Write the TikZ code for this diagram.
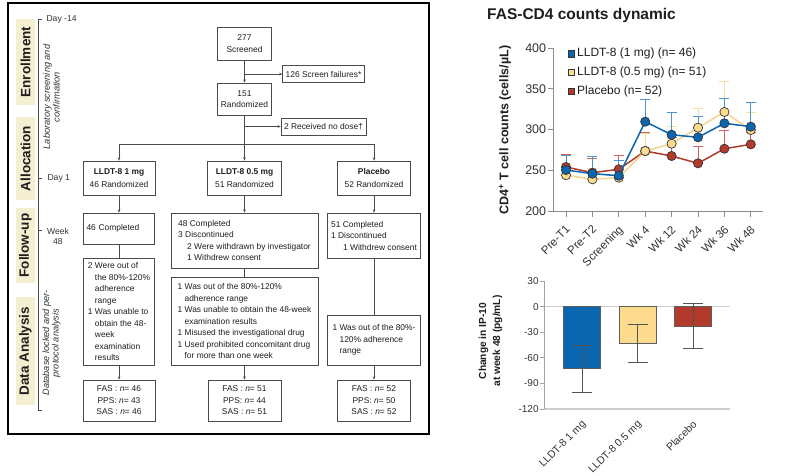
\documentclass[tikz,border=0pt]{standalone}
\usepackage{fontspec}
\setmainfont{Liberation Sans}
\usetikzlibrary{arrows.meta}
\definecolor{band}{HTML}{F3EFD0}
\definecolor{boxc}{HTML}{4A4A4A}
\definecolor{txt}{HTML}{1E1E1E}
\definecolor{cblue}{HTML}{0A66AE}
\definecolor{cyel}{HTML}{FCDB8E}
\definecolor{cyline}{HTML}{F6D58F}
\definecolor{cred}{HTML}{B23A2B}
\definecolor{eblue}{HTML}{4D93D0}
\definecolor{eyel}{HTML}{F8DDA3}
\definecolor{ered}{HTML}{C9675C}
\definecolor{mk}{HTML}{353535}
\definecolor{axc}{HTML}{8C8C8C}
\definecolor{zl}{HTML}{CDCDCD}
\definecolor{tk}{HTML}{333333}
\newcommand{\fflow}{\fontsize{8.4}{11.5}\selectfont}
\begin{document}
\begin{tikzpicture}[x=1pt,y=-1pt,
  fbox/.style={draw=boxc, line width=0.7pt, font=\fflow, text=txt, inner xsep=3pt, inner ysep=1pt, align=center},
  lbox/.style={fbox, align=left},
  conn/.style={draw=boxc, line width=0.65pt},
  arr/.style={conn, -{Stealth[length=3.2pt,width=2.6pt]}},
  phase/.style={fill=band, rotate=90, inner sep=0pt, minimum height=19pt, font=\bfseries\fontsize{13.5}{14}\selectfont, text=txt},
  tl/.style={font=\fontsize{8.6}{10}\selectfont, text=tk},
  note/.style={rotate=90, font=\itshape\fontsize{9.2}{9.6}\selectfont, text=tk, align=center},
  axl/.style={draw=axc, line width=0.8pt},
  ticklab/.style={font=\fontsize{12.5}{13}\selectfont, text=tk},
  xlab/.style={font=\fontsize{11.5}{12}\selectfont, text=tk, rotate=45, anchor=north east, inner sep=1pt},
  legt/.style={font=\fontsize{12}{12}\selectfont, text=txt, anchor=west, inner sep=0pt},
  legsq/.style={draw=mk, line width=0.5pt, minimum size=6.5pt, inner sep=0pt},
  dotmk/.style={draw=mk, line width=0.7pt},
  ebar/.style={line width=0.9pt},
  bticklab/.style={font=\fontsize{10}{11}\selectfont, text=tk},
  bxlab/.style={font=\fontsize{10.5}{11}\selectfont, text=tk, rotate=45, anchor=north east, inner sep=1pt},
  barbox/.style={draw=mk!80, line width=0.6pt},
  barerr/.style={draw=mk!85, line width=0.8pt},
]
\useasboundingbox (0,0) rectangle (794,475);
\fill[white] (0,0) rectangle (794,475);

% ---------------- left panel frame ----------------
\draw[line width=1.1pt, black] (8,3) rectangle (429,434);

% phase bands
\node[phase, minimum width=86pt] (ph1) at (25.5,62) {Enrollment};
\node[phase, minimum width=83pt] (ph2) at (25.5,158.5) {Allocation};
\node[phase, minimum width=75pt] (ph3) at (25.5,245.5) {Follow-up};
\node[phase, minimum width=108pt] (ph4) at (25.5,351) {Data Analysis};

% timeline
\draw[boxc, line width=0.6pt] (42,19) -- (38,19) -- (38,410) -- (42,410);
\draw[boxc, line width=0.6pt] (38,178) -- (42,178);
\draw[boxc, line width=0.6pt] (38,230) -- (42,230);
\node[tl, anchor=west] (d14) at (43,19) {Day -14};
\node[tl, anchor=west] (d1) at (44,178) {Day 1};
\node[tl, align=center] (w48) at (58,236) {Week\\48};
\node[note] (n1) at (51.5,97) {Laboratory screening and\\confirmation};
\node[note] (n2) at (51.5,343) {Database locked and per-\\protocol analysis};

% flow boxes
\node[fbox, minimum width=54pt, minimum height=33pt] (scr) at (244.5,43.5) {277\\Screened};
\node[fbox, minimum width=75pt, minimum height=17pt] (sf) at (323.5,74) {126 Screen failures*};
\node[fbox, minimum width=54pt, minimum height=32pt] (rand) at (244.5,99) {151\\Randomized};
\node[fbox, minimum width=75pt, minimum height=17pt] (nd) at (323.5,126.5) {2 Received no dose†};

\node[fbox, minimum width=72pt, minimum height=34pt] (g1) at (119,178) {\textbf{LLDT-8 1 mg}\\[1pt]46 Randomized};
\node[fbox, minimum width=74pt, minimum height=34pt] (g05) at (244.5,178) {\textbf{LLDT-8 0.5 mg}\\[1pt]51 Randomized};
\node[fbox, minimum width=73pt, minimum height=34pt] (gp) at (374,178) {\textbf{Placebo}\\[1pt]52 Randomized};

\node[lbox, text width=65pt, minimum height=31pt] (c1) at (119,228.5) {46 Completed};
\node[lbox, minimum width=147pt, minimum height=55pt] (c05) at (244.5,240.5) {48 Completed\\3 Discontinued\\\hspace*{9pt}2 Were withdrawn by investigator\\\hspace*{9pt}1 Withdrew consent};
\node[lbox, minimum width=93pt, minimum height=45pt] (cp) at (374,235.5) {51 Completed\\1 Discontinued\\\hspace*{12pt}1 Withdrew consent};

\node[lbox, minimum width=71pt, minimum height=107pt] (da1) at (119,311.5) {2 Were out of\\\hphantom{2 }the 80\%-120\%\\\hphantom{2 }adherence\\\hphantom{2 }range\\1 Was unable to\\\hphantom{1 }obtain the 48-\\\hphantom{1 }week\\\hphantom{1 }examination\\\hphantom{1 }results};
\node[lbox, minimum width=147pt, minimum height=88pt] (da05) at (244.5,321) {1 Was out of the 80\%-120\%\\\hphantom{1 }adherence range\\1 Was unable to obtain the 48-week\\\hphantom{1 }examination results\\1 Misused the investigational drug\\1 Used prohibited concomitant drug\\\hphantom{1 }for more than one week};
\node[lbox, minimum width=93pt, minimum height=50pt] (dap) at (374,340) {1 Was out of the 80\%-\\\hphantom{1 }120\% adherence\\\hphantom{1 }range};

\node[fbox, minimum width=72pt, minimum height=41pt] (f1) at (119,400.5) {FAS : \textit{n}= 46\\PPS: \textit{n}= 43\\SAS : \textit{n}= 46};
\node[fbox, minimum width=73pt, minimum height=41pt] (f05) at (244.5,400.5) {FAS : \textit{n}= 51\\PPS: \textit{n}= 44\\SAS : \textit{n}= 51};
\node[fbox, minimum width=73pt, minimum height=41pt] (fp) at (374,400.5) {FAS : \textit{n}= 52\\PPS: \textit{n}= 50\\SAS : \textit{n}= 52};

% connectors
\draw[arr] (scr) -- (rand);
\draw[arr] (scr.south |- sf.west) -- (sf.west);
\draw[arr] (rand) -- (g05);
\draw[arr] (rand.south |- nd.west) -- (nd.west);
\coordinate (split) at (244.5,144);
\draw[arr] (split) -| (g1.north);
\draw[arr] (split) -| (gp.north);
\draw[arr] (g1) -- (c1);
\draw[conn] (c1) -- (da1);
\draw[arr] (da1) -- (f1);
\draw[arr] (g05) -- (c05);
\draw[conn] (c05) -- (da05);
\draw[arr] (da05) -- (f05);
\draw[arr] (gp) -- (cp);
\draw[conn] (cp) -- (dap);
\draw[arr] (dap) -- (fp);

% ---------------- line chart ----------------
\node[font=\bfseries\fontsize{15.5}{16}\selectfont, text=txt] (title) at (581.5,15) {FAS-CD4 counts dynamic};
\node[rotate=90, font=\bfseries\fontsize{12.5}{13}\selectfont, text=txt] (ylab) at (505,130) {CD4\textsuperscript{+} T cell counts (cells/µL)};

\begin{scope}[shift={(539.6pt,-374pt)}, x=26.4pt, y=0.815pt]
  \draw[axl] (0.508,400) -- (0.508,200) -- (8.46,200);
  \foreach \v in {200,250,300,350,400} {
    \draw[axl] (0.508,\v) -- ++(-5pt,0) node[ticklab, anchor=east, inner sep=1.5pt] {\v};
  }
  \foreach \l [count=\i] in {Pre-T1,Pre-T2,Screening,Wk 4,Wk 12,Wk 24,Wk 36,Wk 48} {
    \draw[axl] (\i,200) -- ++(0,-6pt);
    \node[xlab] at ([xshift=-1pt,yshift=-12pt]\i,200) {\l};
  }
  % error bars
  \foreach \v/\t [count=\i] in {254/269,247/264,251.2/267.8,273.6/296,267.5/290,258.5/279,276.4/299,281.8/296} {
    \draw[ebar, ered] (\i,\v) -- (\i,\t) ([xshift=-5pt]\i,\t) -- ([xshift=5pt]\i,\t);
  }
  \foreach \v/\t [count=\i] in {244/258,238.9/252,240.9/254,273.6/295,282.6/304,302.2/326,321.5/359,299.4/320.6} {
    \draw[ebar, eyel] (\i,\v) -- (\i,\t) ([xshift=-5pt]\i,\t) -- ([xshift=5pt]\i,\t);
  }
  \foreach \v/\t [count=\i] in {250.3/268.7,245.8/266.6,243.3/262.6,309.6/337,293.6/320.6,290.4/316.2,307.6/338.7,303.5/332.9} {
    \draw[ebar, eblue] (\i,\v) -- (\i,\t) ([xshift=-5pt]\i,\t) -- ([xshift=5pt]\i,\t);
  }
  % red series
  \draw[cred, line width=1.5pt, line join=round] plot coordinates {(1,254) (2,247) (3,251.2) (4,273.6) (5,267.5) (6,258.5) (7,276.4) (8,281.8)};
  \foreach \v [count=\i] in {254,247,251.2,273.6,267.5,258.5,276.4,281.8} {
    \filldraw[dotmk, fill=cred] (\i,\v) circle (4.6pt);
  }
  % yellow series
  \draw[cyline, line width=1.5pt, line join=round] plot coordinates {(1,244) (2,238.9) (3,240.9) (4,273.6) (5,282.6) (6,302.2) (7,321.5) (8,299.4)};
  \foreach \v [count=\i] in {244,238.9,240.9,273.6,282.6,302.2,321.5,299.4} {
    \filldraw[dotmk, fill=cyel] (\i,\v) circle (4.6pt);
  }
  % blue series
  \draw[cblue, line width=1.5pt, line join=round] plot coordinates {(1,250.3) (2,245.8) (3,243.3) (4,309.6) (5,293.6) (6,290.4) (7,307.6) (8,303.5)};
  \foreach \v [count=\i] in {250.3,245.8,243.3,309.6,293.6,290.4,307.6,303.5} {
    \filldraw[dotmk, fill=cblue] (\i,\v) circle (4.6pt);
  }
\end{scope}

% legend
\node[legsq, fill=cblue] (lq1) at (571,53.5) {};
\node[legsq, fill=cyel] (lq2) at (571,72) {};
\node[legsq, fill=cred] (lq3) at (571,91) {};
\node[legt] (lt1) at (577,53.5) {LLDT-8 (1 mg) (n= 46)};
\node[legt] (lt2) at (577,72) {LLDT-8 (0.5 mg) (n= 51)};
\node[legt] (lt3) at (577,91) {Placebo (n= 52)};

% ---------------- bar chart ----------------
\node[rotate=90, align=center, font=\bfseries\fontsize{10.2}{14}\selectfont, text=txt] (bylab) at (490.5,341) {Change in IP-10\\at week 48 (pg/mL)};
\begin{scope}[shift={(526.5pt,-306.6pt)}, x=55.5pt, y=0.853pt]
  \draw[draw=zl, line width=1.4pt] (0.315,0) -- (3.667,0);
  \draw[draw=zl, line width=1.2pt] (0.315,-120) -- (3.667,-120);
  \draw[axl, draw=axc!80] (0.315,30) -- (0.315,-120);
  \foreach \v in {30,0,-30,-60,-90,-120} {
    \draw[axl, draw=axc!80] (0.315,\v) -- ++(-4pt,0) node[bticklab, anchor=east, inner sep=1pt] {\v};
  }
  \filldraw[barbox, fill=cblue] (0.667,0) rectangle (1.333,-72);
  \filldraw[barbox, fill=cyel] (1.667,0) rectangle (2.333,-42.5);
  \filldraw[barbox, fill=cred] (2.667,0) rectangle (3.333,-22.7);
  \draw[barerr] (1,-45) -- (1,-100.4) ([xshift=-10pt]1,-45) -- ([xshift=10pt]1,-45) ([xshift=-10pt]1,-100.4) -- ([xshift=10pt]1,-100.4);
  \draw[barerr] (2,-20.7) -- (2,-64.9) ([xshift=-10pt]2,-20.7) -- ([xshift=10pt]2,-20.7) ([xshift=-10pt]2,-64.9) -- ([xshift=10pt]2,-64.9);
  \draw[barerr] (3,3.2) -- (3,-48.9) ([xshift=-10pt]3,3.2) -- ([xshift=10pt]3,3.2) ([xshift=-10pt]3,-48.9) -- ([xshift=10pt]3,-48.9);
  \foreach \l [count=\j] in {LLDT-8 1 mg,LLDT-8 0.5 mg,Placebo} {
    \node[bxlab] at ([xshift=-1pt,yshift=-9pt]\j,-120) {\l};
  }
\end{scope}
\end{tikzpicture}
\end{document}
